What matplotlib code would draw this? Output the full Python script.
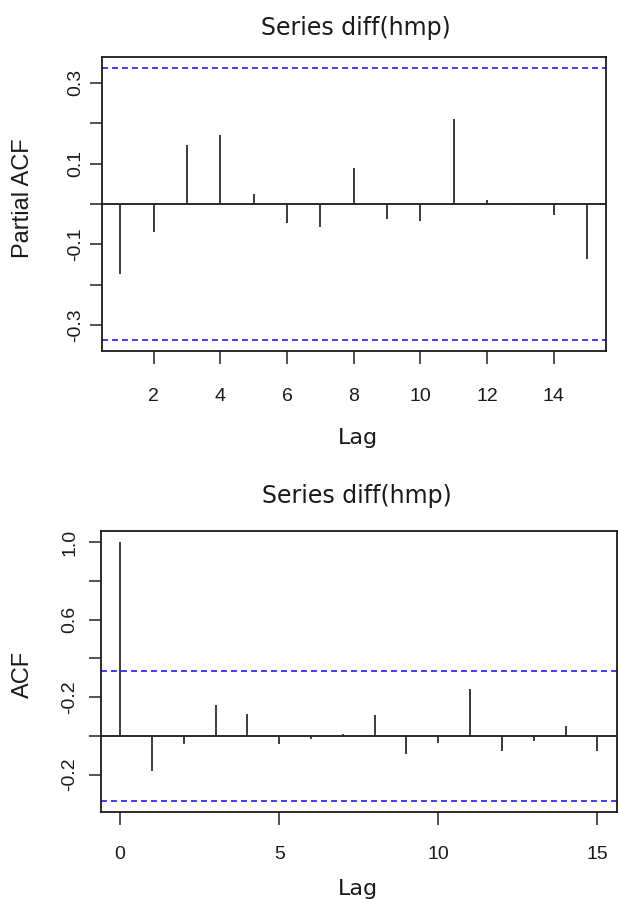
import matplotlib.pyplot as plt

plt.rcParams['font.family'] = ['Liberation Sans', 'DejaVu Sans']
plt.rcParams['lines.scale_dashes'] = False

# values
title = "Series diff(hmp)"
conf = 0.336  # 1.96 / sqrt(n)

pacf_lags = list(range(1, 16))
pacf_vals = [-0.173, -0.070, 0.146, 0.170, 0.025, -0.047, -0.058, 0.088,
             -0.038, -0.042, 0.210, 0.010, -0.002, -0.026, -0.136]
pacf_xticks = [2, 4, 6, 8, 10, 12, 14]
pacf_yticks = [-0.3, -0.2, -0.1, 0.0, 0.1, 0.2, 0.3]
pacf_ylabels = ["-0.3", "", "-0.1", "", "0.1", "", "0.3"]

acf_lags = list(range(0, 16))
acf_vals = [1.0, -0.180, -0.043, 0.161, 0.112, -0.043, -0.019, 0.010,
            0.105, -0.092, -0.036, 0.240, -0.076, -0.029, 0.052, -0.076]
acf_xticks = [0, 5, 10, 15]
acf_yticks = [-0.2, 0.0, 0.2, 0.4, 0.6, 0.8, 1.0]
acf_ylabels = ["-0.2", "", "-0.2", "", "0.6", "", "1.0"]

W, H = 618, 899
fig = plt.figure(figsize=(W / 100, H / 100), dpi=100)
ink = '#1a1a1a'


def px_axes(left, top, right, bottom):
    # axes placed in pixel coordinates (origin top-left)
    return fig.add_axes([left / W, 1 - bottom / H, (right - left) / W, (bottom - top) / H])


def corr_panel(ax, lags, vals, xticks, yticks, ylabels, xpad, ypad):
    ax.vlines(lags, 0, vals, color=ink, lw=1.2)
    ax.axhline(0, color='#2a2a2a', lw=1.4)
    for c in (conf, -conf):
        ax.axhline(c, color='#1f1fff', lw=1.2, ls=(0, (4.3, 2.9)))
    ax.set_xticks(xticks)
    ax.set_yticks(yticks, ylabels)
    plt.setp(ax.get_yticklabels(), rotation=90, va='center', ha='right')
    ax.tick_params(axis='x', length=9.7, width=1.2, pad=xpad, labelsize=14,
                   color='#333333', labelcolor=ink)
    ax.tick_params(axis='y', length=8.6, width=1.2, pad=ypad, labelsize=14,
                   color='#333333', labelcolor=ink)
    for s in ax.spines.values():
        s.set_linewidth(1.3)
        s.set_color(ink)


ax1 = px_axes(101.7, 57, 605.7, 351)
corr_panel(ax1, pacf_lags, pacf_vals, pacf_xticks, pacf_yticks, pacf_ylabels, 17, 4.1)
ax1.set_xlim(0.44, 15.56)
ax1.set_ylim(-0.363, 0.363)

ax2 = px_axes(101, 531, 616.5, 811.7)
corr_panel(ax2, acf_lags, acf_vals, acf_xticks, acf_yticks, acf_ylabels, 15, 7.7)
ax2.set_xlim(-0.6, 15.6)
ax2.set_ylim(-0.392, 1.058)

# titles and axis labels
def ftext(x, y, s, **kw):
    fig.text(x / W, 1 - y / H, s, ha='center', va='center', color=ink, **kw)


ftext(356, 28, title, fontsize=17, family='DejaVu Sans')
ftext(357.5, 438, "Lag", fontsize=16, family='DejaVu Sans')
ftext(23.3, 198, "Partial ACF", fontsize=17, rotation=90)

ftext(357, 496.5, title, fontsize=17, family='DejaVu Sans')
ftext(357.8, 889, "Lag", fontsize=16, family='DejaVu Sans')
ftext(22.8, 674, "ACF", fontsize=17, rotation=90)

fig.savefig("out.png", dpi=100)
